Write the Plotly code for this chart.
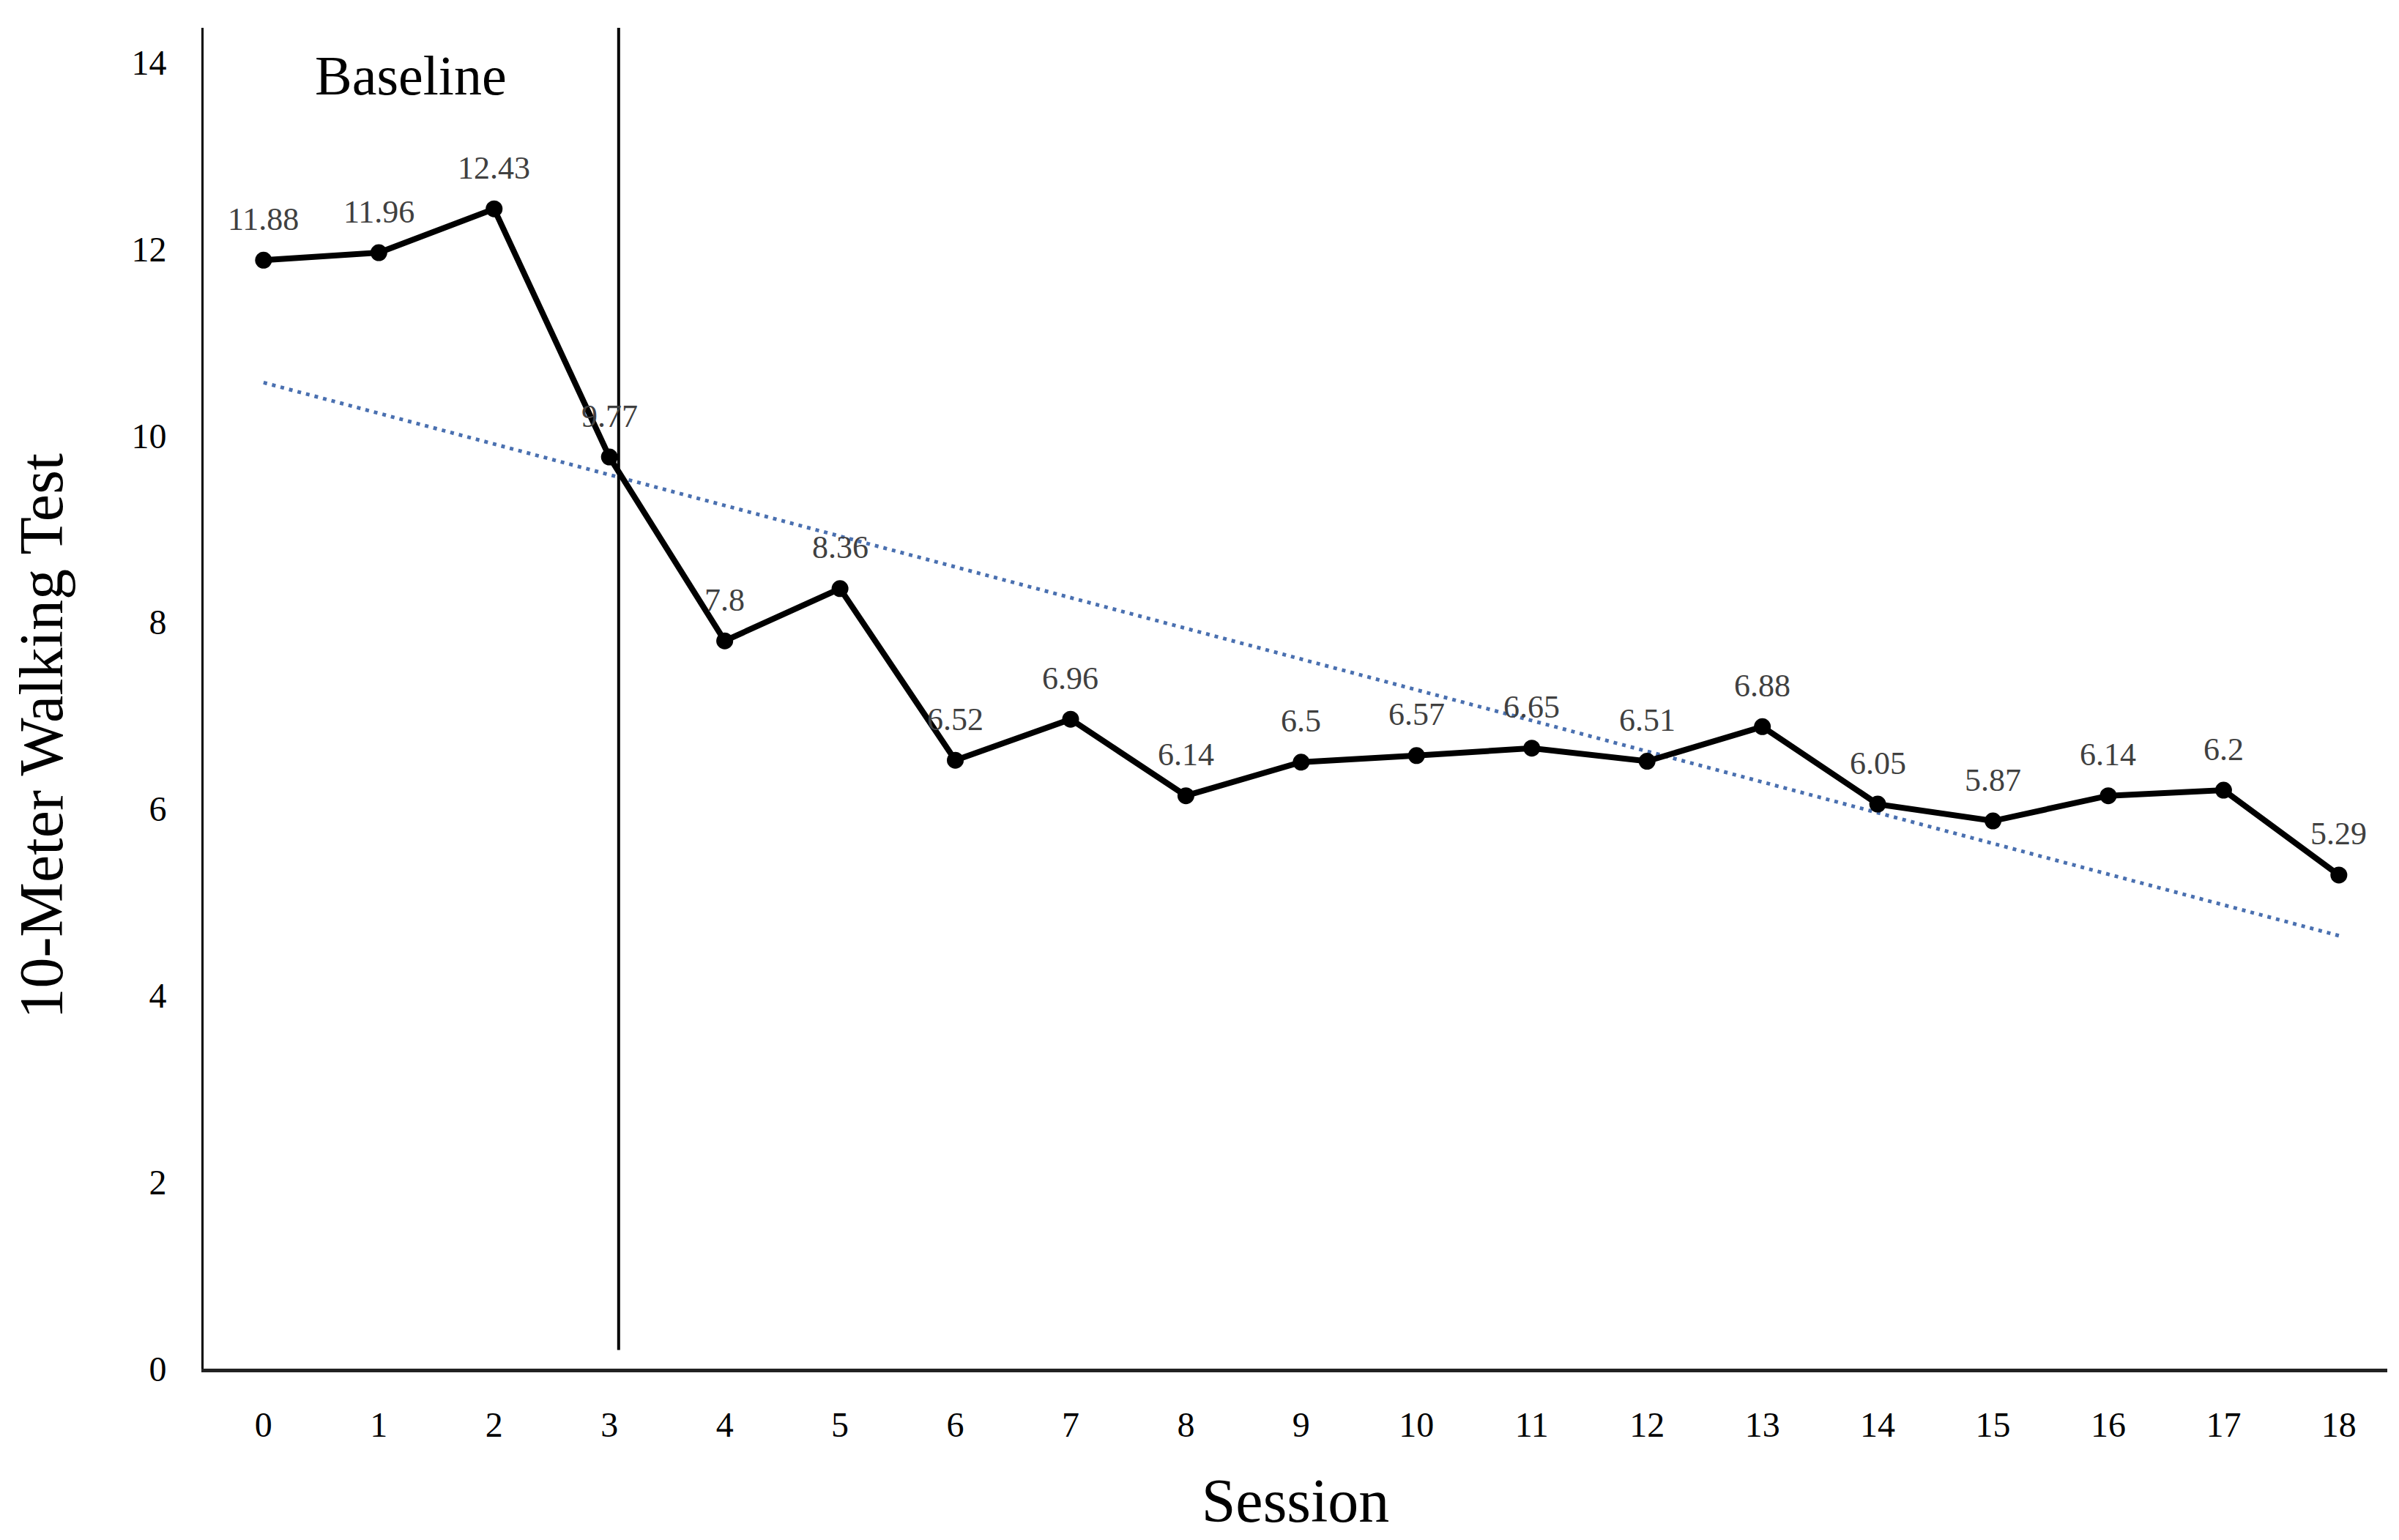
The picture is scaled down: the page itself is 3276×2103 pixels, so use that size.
import numpy as np
import plotly.graph_objects as go

sessions = list(range(19))
walking_test = [11.88, 11.96, 12.43, 9.77, 7.8, 8.36, 6.52, 6.96, 6.14, 6.5,
                6.57, 6.65, 6.51, 6.88, 6.05, 5.87, 6.14, 6.2, 5.29]
value_labels = ["11.88", "11.96", "12.43", "9.77", "7.8", "8.36", "6.52", "6.96", "6.14", "6.5",
                "6.57", "6.65", "6.51", "6.88", "6.05", "5.87", "6.14", "6.2", "5.29"]
y_ticks = [0, 2, 4, 6, 8, 10, 12, 14]
phase_boundary = 3.08
phase_label = "Baseline"

# linear trend line (least squares fit of the series)
slope, intercept = np.polyfit(sessions, walking_test, 1)
trend_x = [sessions[0], sessions[-1]]
trend_y = [intercept + slope * sessions[0], intercept + slope * sessions[-1]]

FONT = "Liberation Serif, Times New Roman, serif"

fig = go.Figure()
fig.add_trace(go.Scatter(
    x=trend_x, y=trend_y, mode="lines",
    line=dict(color="#4A70B0", width=5, dash="5px,7px"),
    hoverinfo="skip", showlegend=False))
fig.add_trace(go.Scatter(
    x=sessions, y=walking_test, mode="lines+markers",
    line=dict(color="black", width=8),
    marker=dict(color="black", size=23),
    showlegend=False))

for xv, yv, lab in zip(sessions, walking_test, value_labels):
    fig.add_annotation(x=xv, y=yv, xref="x", yref="y", text=lab, showarrow=False,
                       yshift=56, font=dict(family=FONT, size=44, color="#404040"))

fig.add_shape(type="line", x0=phase_boundary, x1=phase_boundary, y0=0.2, y1=14.4,
              xref="x", yref="y", line=dict(color="black", width=4))
fig.add_annotation(x=1.28, y=13.86, xref="x", yref="y", text=phase_label, showarrow=False,
                   font=dict(family=FONT, size=76, color="black"))
fig.add_annotation(x=0, y=6.78, xref="paper", yref="y", xshift=-270, textangle=-90,
                   text="10-Meter Walking Test", showarrow=False,
                   font=dict(family=FONT, size=84, color="black"))

fig.update_layout(
    width=3276, height=2103,
    margin=dict(l=270, r=24, t=30, b=242),
    paper_bgcolor="white", plot_bgcolor="white",
    font=dict(family=FONT, color="black"),
)
fig.update_xaxes(
    range=[-0.52, 18.42], tickmode="array", tickvals=sessions,
    ticktext=[str(s) for s in sessions],
    showgrid=False, zeroline=False,
    showline=True, linecolor="#222222", linewidth=5,
    ticks="outside", ticklen=30, tickcolor="rgba(0,0,0,0)",
    tickfont=dict(family=FONT, size=48, color="black"),
    title=dict(text="Session", font=dict(family=FONT, size=84, color="black"), standoff=50),
)
fig.update_yaxes(
    range=[0, 14.37], tickmode="array", tickvals=y_ticks,
    ticktext=[str(t) for t in y_ticks],
    showgrid=False, zeroline=False,
    showline=True, linecolor="black", linewidth=3,
    ticks="outside", ticklen=38, tickcolor="rgba(0,0,0,0)",
    tickfont=dict(family=FONT, size=48, color="black"),
)

fig.write_html("out.html")
